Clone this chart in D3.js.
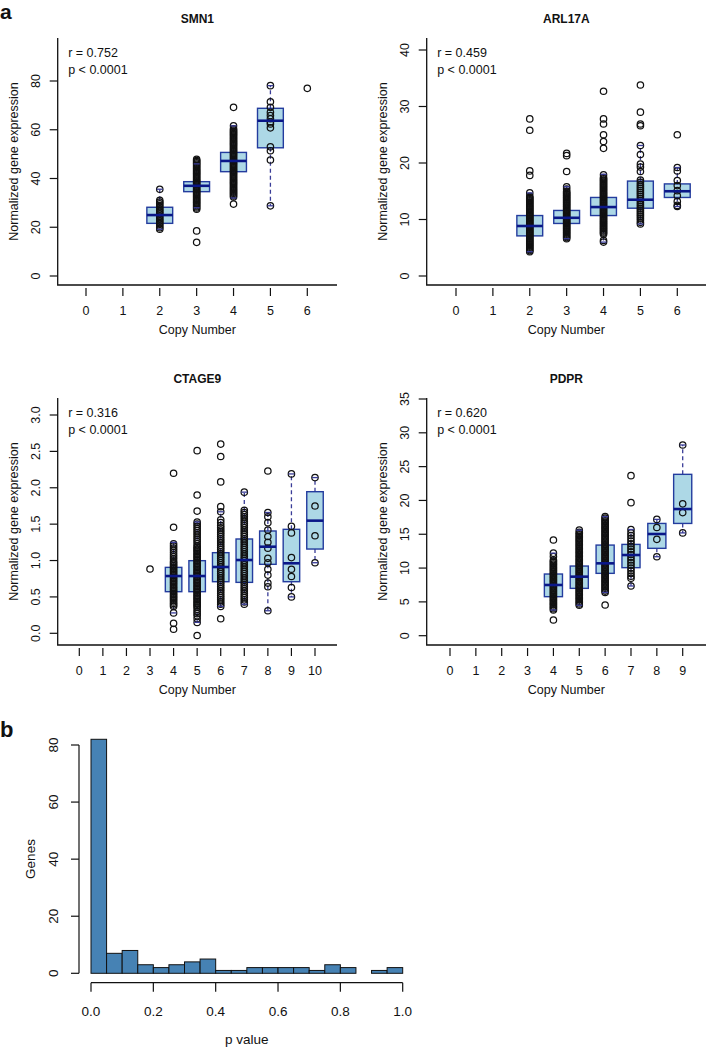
<!DOCTYPE html>
<html><head><meta charset="utf-8">
<script src="https://cdn.jsdelivr.net/npm/d3@7"></script>
<style>
body{margin:0;background:#fff}
svg{display:block}
text{font-family:"Liberation Sans",Arial,Helvetica,sans-serif;fill:#111}
</style>
</head><body>
<script>
// ---------------- DATA ----------------
// SMN1
const smn1Title = "SMN1", smn1R = "r = 0.752", smn1P = "p < 0.0001";
const smn1XTicks = [0,1,2,3,4,5,6];
const smn1YTicks = [0,20,40,60,80];
const smn1Cn  = [2,3,4,5];
const smn1Q1  = [21.6,34.6,42.8,52.6];
const smn1Med = [25.0,37.0,47.2,63.7];
const smn1Q3  = [28.2,38.7,50.7,68.8];
const smn1Lo  = [19.2,28.0,32.0,28.8];
const smn1Hi  = [35.6,46.0,61.6,78.1];
const smn1PtCn = [2,3,4,5,6];
const smn1Pts = [
 [19.2,19.8,20.5,21.2,21.9,22.6,23.3,24,24.7,25.4,26.1,26.8,27.5,28.2,28.9,29.6,30.3,31,35.6],
 [13.8,18.5,27.4,27.9,28.4,28.9,29.4,29.9,30.4,30.9,31.4,31.9,32.4,32.9,33.4,33.9,34.4,34.9,35.4,35.9,36.4,36.9,37.4,37.9,38.4,38.9,39.4,39.9,40.4,40.9,41.4,41.9,42.4,42.9,43.4,43.9,44.4,44.9,45.4,45.9,46.4,46.9,47.4,47.9],
 [29.5,32.4,32.9,33.4,33.9,34.4,34.9,35.4,35.9,36.4,36.9,37.4,37.9,38.4,38.9,39.4,39.9,40.4,40.9,41.4,41.9,42.4,42.9,43.4,43.9,44.4,44.9,45.4,45.9,46.4,46.9,47.4,47.9,48.4,48.9,49.4,49.9,50.4,50.9,51.4,51.9,52.4,52.9,53.4,53.9,54.4,54.9,55.4,55.9,56.4,56.9,57.4,57.9,58.4,58.9,59.4,59.9,60.4,61.6,69.2],
 [28.8,47.6,51.4,53,60.8,62.4,63.2,64.5,65.8,67.2,69.2,71.5,78.1],
 [77]
];
// ARL17A
const arlTitle = "ARL17A", arlR = "r = 0.459", arlP = "p < 0.0001";
const arlXTicks = [0,1,2,3,4,5,6];
const arlYTicks = [0,10,20,30,40];
const arlCn  = [2,3,4,5,6];
const arlQ1  = [7.1,9.3,10.7,12.0,13.9];
const arlMed = [8.85,10.3,12.2,13.5,15.0];
const arlQ3  = [10.7,11.6,13.9,16.8,16.3];
const arlLo  = [4.3,6.6,6.0,9.2,12.3];
const arlHi  = [14.7,15.8,18.0,23.1,19.2];
const arlPtCn = [2,3,4,5,6];
const arlPts = [
 [4.3,4.5,4.7,4.9,5.1,5.3,5.5,5.7,5.9,6.1,6.3,6.5,6.7,6.9,7.1,7.3,7.5,7.7,7.9,8.1,8.3,8.5,8.7,8.9,9.1,9.3,9.5,9.7,9.9,10.1,10.3,10.5,10.7,10.9,11.1,11.3,11.5,11.7,11.9,12.1,12.3,12.5,12.7,12.9,13.1,13.3,13.5,13.7,13.9,14.1,14.7,17.8,18.6,25.8,27.8],
 [6.6,6.8,7,7.2,7.4,7.6,7.8,8,8.2,8.4,8.6,8.8,9,9.2,9.4,9.6,9.8,10,10.2,10.4,10.6,10.8,11,11.2,11.4,11.6,11.8,12,12.2,12.4,12.6,12.8,13,13.2,13.4,13.6,13.8,14,14.2,14.4,14.6,14.8,15,15.4,15.8,18.5,21.3,21.7],
 [6,6.3,7.4,7.6,7.8,8,8.2,8.4,8.6,8.8,9,9.2,9.4,9.6,9.8,10,10.2,10.4,10.6,10.8,11,11.2,11.4,11.6,11.8,12,12.2,12.4,12.6,12.8,13,13.2,13.4,13.6,13.8,14,14.2,14.4,14.6,14.8,15,15.2,15.4,15.6,15.8,16,16.2,16.4,16.6,16.8,17,17.2,17.4,17.9,22.6,23.8,25,26.9,27.8,32.7],
 [9.2,9.5,9.9,10.25,10.6,10.95,11.3,11.65,12,12.35,12.7,13.05,13.4,13.75,14.1,14.45,14.8,15.15,15.5,15.85,16.2,16.6,17,18.5,19.3,19.8,21.5,23.1,26.6,26.9,29,33.8],
 [12.3,12.5,13.2,14.2,15.1,16,16.9,18.6,19.2,25]
];
// CTAGE9
const ctaTitle = "CTAGE9", ctaR = "r = 0.316", ctaP = "p < 0.0001";
const ctaXTicks = [0,1,2,3,4,5,6,7,8,9,10];
const ctaYTicks = [0,0.5,1,1.5,2,2.5,3];
const ctaCn  = [4,5,6,7,8,9,10];
const ctaQ1  = [0.572,0.572,0.709,0.700,0.948,0.709,1.158];
const ctaMed = [0.787,0.787,0.911,1.007,1.190,0.962,1.548];
const ctaQ3  = [0.906,0.998,1.108,1.296,1.406,1.429,1.946];
const ctaLo  = [0.28,0.15,0.37,0.40,0.31,0.50,0.97];
const ctaHi  = [1.25,1.53,1.67,1.94,1.66,2.19,2.14];
const ctaPtCn = [3,4,5,6,7,8,9,10];
const ctaPts = [
 [0.884],
 [0.055,0.137,0.28,0.37,0.39,0.41,0.43,0.45,0.47,0.49,0.51,0.53,0.55,0.57,0.59,0.61,0.63,0.65,0.67,0.69,0.71,0.73,0.75,0.77,0.79,0.81,0.83,0.85,0.87,0.89,0.91,0.93,0.95,0.97,0.99,1.02,1.05,1.08,1.11,1.14,1.17,1.2,1.23,1.457,2.2],
 [-0.03,0.15,0.2,0.24,0.27,0.3,0.33,0.36,0.38,0.4,0.42,0.44,0.46,0.48,0.5,0.52,0.54,0.56,0.58,0.6,0.62,0.64,0.66,0.68,0.7,0.72,0.74,0.76,0.78,0.8,0.82,0.84,0.86,0.88,0.9,0.92,0.94,0.96,0.98,1,1.02,1.04,1.06,1.08,1.1,1.12,1.14,1.16,1.18,1.2,1.23,1.26,1.29,1.32,1.35,1.38,1.41,1.44,1.47,1.5,1.53,1.68,1.9,2.51],
 [0.2,0.37,0.4,0.43,0.46,0.49,0.52,0.55,0.58,0.61,0.64,0.67,0.7,0.73,0.76,0.79,0.82,0.85,0.88,0.91,0.94,0.97,1,1.03,1.06,1.09,1.12,1.15,1.18,1.21,1.24,1.27,1.3,1.33,1.36,1.39,1.42,1.45,1.48,1.52,1.56,1.67,1.74,2.08,2.43,2.6],
 [0.4,0.43,0.46,0.49,0.52,0.55,0.58,0.61,0.64,0.67,0.7,0.73,0.76,0.79,0.82,0.85,0.88,0.91,0.94,0.97,1,1.03,1.06,1.09,1.12,1.15,1.18,1.21,1.24,1.27,1.3,1.33,1.36,1.39,1.42,1.45,1.48,1.51,1.54,1.57,1.6,1.63,1.66,1.69,1.94],
 [0.31,0.64,0.69,0.8,0.88,0.97,1.03,1.17,1.25,1.33,1.42,1.52,1.6,1.66,2.23],
 [0.5,0.63,0.78,0.88,1.04,1.38,1.47,2.19],
 [0.97,1.34,1.75,2.14]
];
// PDPR
const pdprTitle = "PDPR", pdprR = "r = 0.620", pdprP = "p < 0.0001";
const pdprXTicks = [0,1,2,3,4,5,6,7,8,9];
const pdprYTicks = [0,5,10,15,20,25,30,35];
const pdprCn  = [4,5,6,7,8,9];
const pdprQ1  = [5.77,7.0,9.22,10.06,12.92,16.6];
const pdprMed = [7.5,8.73,10.7,11.93,15.04,18.73];
const pdprQ3  = [9.12,10.3,13.4,13.5,16.6,23.86];
const pdprLo  = [3.8,4.5,6.4,7.35,11.68,15.2];
const pdprHi  = [12.2,15.6,17.6,15.7,17.2,28.2];
const pdprPtCn = [4,5,6,7,8,9];
const pdprPts = [
 [2.32,3.8,4,4.2,4.4,4.6,4.8,5,5.2,5.4,5.6,5.8,6,6.2,6.4,6.6,6.8,7,7.2,7.4,7.6,7.8,8,8.2,8.4,8.6,8.8,9,9.2,9.4,9.6,9.8,10,10.2,10.4,10.6,10.8,11,11.2,11.7,12.2,14.15],
 [4.5,4.7,4.9,5.1,5.3,5.5,5.7,5.9,6.1,6.3,6.5,6.7,6.9,7.1,7.3,7.5,7.7,7.9,8.1,8.3,8.5,8.7,8.9,9.1,9.3,9.5,9.7,9.9,10.1,10.3,10.5,10.7,10.9,11.1,11.3,11.5,11.7,11.9,12.1,12.3,12.5,12.7,12.9,13.1,13.3,13.5,13.7,13.9,14.1,14.3,14.5,14.7,14.9,15.1,15.3,15.6],
 [4.54,6.4,6.6,6.8,7,7.2,7.4,7.6,7.8,8,8.2,8.4,8.6,8.8,9,9.2,9.4,9.6,9.8,10,10.2,10.4,10.6,10.8,11,11.2,11.4,11.6,11.8,12,12.2,12.4,12.6,12.8,13,13.2,13.4,13.6,13.8,14,14.2,14.4,14.6,14.8,15,15.2,15.4,15.6,15.8,16,16.2,16.4,16.6,16.8,17,17.2,17.4,17.6],
 [7.35,8.5,8.8,9.2,9.6,10,10.4,10.8,11.2,11.6,12,12.4,12.8,13.2,13.6,14,14.4,14.8,15.2,15.7,19.67,23.66],
 [11.68,14.25,16,17.2],
 [15.2,18.2,19.5,28.2]
];
// Histogram of p values (bins of width 0.05)
const histBreaks = [0,0.05,0.1,0.15,0.2,0.25,0.3,0.35,0.4,0.45,0.5,0.55,0.6,0.65,0.7,0.75,0.8,0.85,0.9,0.95,1.0];
const histCounts = [82,7,8,3,2,3,4,5,1,1,2,2,2,2,1,3,2,0,1,2];
const histXTicks = [0,0.2,0.4,0.6,0.8,1.0];
const histYTicks = [0,20,40,60,80];

// ---------------- DRAWING ----------------
const W = 707, H = 1048;
const svg = d3.select("body").append("svg").attr("width", W).attr("height", H);

const FS = 12.5;
const BOX_FILL = "#add8e6", BOX_STROKE = "#243c9e", MED = "#0a1788", WHISK = "#3a3d98";

const panels = [
  {title:smn1Title, r:smn1R, p:smn1P, xt:smn1XTicks, yt:smn1YTicks, yfmt:d3.format("d"),
   cn:smn1Cn, q1:smn1Q1, med:smn1Med, q3:smn1Q3, lo:smn1Lo, hi:smn1Hi, ptCn:smn1PtCn, pts:smn1Pts,
   xd:[0,6], xr:[86,307.3], yd:[0,80], yr:[276,81], L:57.7, R:337, T:38, B:285},
  {title:arlTitle, r:arlR, p:arlP, xt:arlXTicks, yt:arlYTicks, yfmt:d3.format("d"),
   cn:arlCn, q1:arlQ1, med:arlMed, q3:arlQ3, lo:arlLo, hi:arlHi, ptCn:arlPtCn, pts:arlPts,
   xd:[0,6], xr:[456,677.3], yd:[0,40], yr:[276,50], L:426.7, R:706, T:38, B:285},
  {title:ctaTitle, r:ctaR, p:ctaP, xt:ctaXTicks, yt:ctaYTicks, yfmt:d3.format(".1f"),
   cn:ctaCn, q1:ctaQ1, med:ctaMed, q3:ctaQ3, lo:ctaLo, hi:ctaHi, ptCn:ctaPtCn, pts:ctaPts,
   xd:[0,10], xr:[79.3,315], yd:[0,3], yr:[633.3,415], L:57.7, R:337, T:398, B:645},
  {title:pdprTitle, r:pdprR, p:pdprP, xt:pdprXTicks, yt:pdprYTicks, yfmt:d3.format("d"),
   cn:pdprCn, q1:pdprQ1, med:pdprMed, q3:pdprQ3, lo:pdprLo, hi:pdprHi, ptCn:pdprPtCn, pts:pdprPts,
   xd:[0,9], xr:[450,682.7], yd:[0,35], yr:[635.7,399], L:426.7, R:706, T:398, B:645}
];

panels.forEach(P => {
  const x = d3.scaleLinear().domain(P.xd).range(P.xr);
  const y = d3.scaleLinear().domain(P.yd).range(P.yr);
  const g = svg.append("g");
  const unit = x(1) - x(0);
  const bw = unit * 0.7;

  // L-shaped box
  g.append("path").attr("d", `M${P.L},${P.T}V${P.B}H${P.R}`)
    .attr("fill","none").attr("stroke","#111").attr("stroke-width",1.3);

  // y axis ticks + labels
  const yAx = g.append("g");
  P.yt.forEach(v => {
    yAx.append("line").attr("x1",P.L-8).attr("x2",P.L).attr("y1",y(v)).attr("y2",y(v))
      .attr("stroke","#111").attr("stroke-width",1.2);
    yAx.append("text").attr("transform",`translate(${P.L-22.5},${y(v)}) rotate(-90)`)
      .attr("text-anchor","middle").attr("dy","0.35em").attr("font-size",FS).text(P.yfmt(v));
  });
  // x axis ticks + labels
  P.xt.forEach(v => {
    g.append("line").attr("x1",x(v)).attr("x2",x(v)).attr("y1",P.B+3).attr("y2",P.B+11)
      .attr("stroke","#111").attr("stroke-width",1.2);
    g.append("text").attr("x",x(v)).attr("y",P.B+26).attr("dy","0.35em")
      .attr("text-anchor","middle").attr("font-size",FS).text(v);
  });

  // titles & labels
  const cx = (P.L + P.R)/2;
  g.append("text").attr("x",cx).attr("y",P.T-19).attr("dy","0.35em").attr("text-anchor","middle")
    .attr("font-size",12).attr("font-weight","bold").text(P.title);
  g.append("text").attr("x",cx).attr("y",P.B+45).attr("dy","0.35em").attr("text-anchor","middle")
    .attr("font-size",FS).text("Copy Number");
  g.append("text").attr("transform",`translate(${P.L-44},${(P.T+P.B)/2}) rotate(-90)`)
    .attr("text-anchor","middle").attr("dy","0.35em").attr("font-size",FS).text("Normalized gene expression");
  g.append("text").attr("x",P.L+10.5).attr("y",P.T+15).attr("dy","0.35em").attr("font-size",FS).text(P.r);
  g.append("text").attr("x",P.L+10.5).attr("y",P.T+32).attr("dy","0.35em").attr("font-size",FS).text(P.p);

  // boxes
  const bx = P.cn.map((c,i)=>({c, q1:P.q1[i], med:P.med[i], q3:P.q3[i], lo:P.lo[i], hi:P.hi[i]}));
  const bg = g.append("g");
  bg.selectAll("line.wu").data(bx).join("line").attr("class","wu")
    .attr("x1",d=>x(d.c)).attr("x2",d=>x(d.c)).attr("y1",d=>y(d.q3)).attr("y2",d=>y(d.hi))
    .attr("stroke",WHISK).attr("stroke-width",1.3).attr("stroke-dasharray","4,3");
  bg.selectAll("line.wl").data(bx).join("line").attr("class","wl")
    .attr("x1",d=>x(d.c)).attr("x2",d=>x(d.c)).attr("y1",d=>y(d.q1)).attr("y2",d=>y(d.lo))
    .attr("stroke",WHISK).attr("stroke-width",1.3).attr("stroke-dasharray","4,3");
  bg.selectAll("rect").data(bx).join("rect")
    .attr("x",d=>x(d.c)-bw/2).attr("width",bw)
    .attr("y",d=>y(d.q3)).attr("height",d=>y(d.q1)-y(d.q3))
    .attr("fill",BOX_FILL).attr("stroke",BOX_STROKE).attr("stroke-width",1.4);

  // points
  const pts = [];
  P.ptCn.forEach((c,i)=>P.pts[i].forEach(v=>pts.push({c,v})));
  g.append("g").selectAll("circle").data(pts).join("circle")
    .attr("cx",d=>x(d.c)).attr("cy",d=>y(d.v)).attr("r",3.2)
    .attr("fill","none").attr("stroke","#111").attr("stroke-width",1.25);

  // medians & staples on top
  const mg = g.append("g");
  mg.selectAll("line.m").data(bx).join("line").attr("class","m")
    .attr("x1",d=>x(d.c)-bw/2).attr("x2",d=>x(d.c)+bw/2).attr("y1",d=>y(d.med)).attr("y2",d=>y(d.med))
    .attr("stroke",MED).attr("stroke-width",2.6);
  ["lo","hi"].forEach(k=>{
    mg.selectAll("line.s"+k).data(bx).join("line").attr("class","s"+k)
      .attr("x1",d=>x(d.c)-3).attr("x2",d=>x(d.c)+3).attr("y1",d=>y(d[k])).attr("y2",d=>y(d[k]))
      .attr("stroke",WHISK).attr("stroke-width",1.3);
  });
});

// panel letters
svg.append("text").attr("x",0).attr("y",19).attr("font-size",21).attr("font-weight","bold").text("a");
svg.append("text").attr("x",0).attr("y",737).attr("font-size",22).attr("font-weight","bold").text("b");

// ---------------- HISTOGRAM ----------------
{
  const HF = 13.5;
  const x = d3.scaleLinear().domain([0,1]).range([91,402.7]);
  const y = d3.scaleLinear().domain([0,80]).range([973.3,745]);
  const g = svg.append("g");
  const bins = histCounts.map((c,i)=>({x0:histBreaks[i], x1:histBreaks[i+1], c}));
  g.selectAll("rect").data(bins).join("rect")
    .attr("x",d=>x(d.x0)).attr("width",d=>x(d.x1)-x(d.x0))
    .attr("y",d=>y(d.c)).attr("height",d=>y(0)-y(d.c))
    .attr("fill","#4682b4").attr("stroke","#111").attr("stroke-width",1);
  // y axis
  const yl = 79;
  g.append("line").attr("x1",yl).attr("x2",yl).attr("y1",y(0)).attr("y2",y(80)).attr("stroke","#111").attr("stroke-width",1.2);
  histYTicks.forEach(v=>{
    g.append("line").attr("x1",yl-8).attr("x2",yl).attr("y1",y(v)).attr("y2",y(v)).attr("stroke","#111").attr("stroke-width",1.2);
    g.append("text").attr("transform",`translate(53,${y(v)}) rotate(-90)`).attr("text-anchor","middle")
      .attr("dy","0.35em").attr("font-size",HF).text(v);
  });
  // x axis
  const xl = 982.7;
  g.append("line").attr("x1",x(0)).attr("x2",x(1)).attr("y1",xl).attr("y2",xl).attr("stroke","#111").attr("stroke-width",1.2);
  histXTicks.forEach(v=>{
    g.append("line").attr("x1",x(v)).attr("x2",x(v)).attr("y1",xl).attr("y2",xl+9).attr("stroke","#111").attr("stroke-width",1.2);
    g.append("text").attr("x",x(v)).attr("y",1011.7).attr("dy","0.35em").attr("text-anchor","middle")
      .attr("font-size",HF).text(d3.format(".1f")(v));
  });
  g.append("text").attr("x",(x(0)+x(1))/2).attr("y",1039).attr("dy","0.35em").attr("text-anchor","middle")
    .attr("font-size",HF).text("p value");
  g.append("text").attr("transform",`translate(30,859) rotate(-90)`).attr("text-anchor","middle")
    .attr("dy","0.35em").attr("font-size",HF).text("Genes");
}
</script>
</body></html>
